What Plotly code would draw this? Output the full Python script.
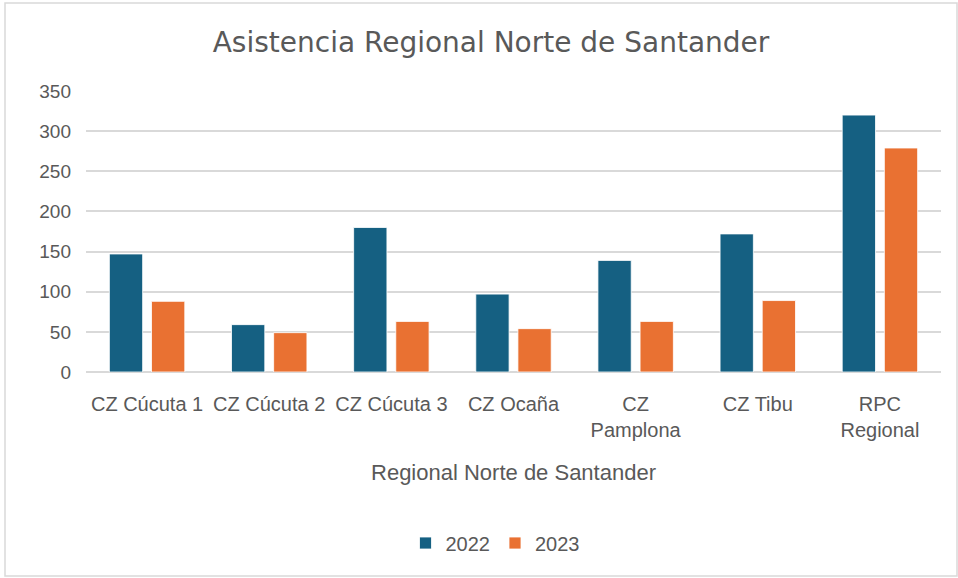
import plotly.graph_objects as go

categories = ["CZ Cúcuta 1", "CZ Cúcuta 2", "CZ Cúcuta 3", "CZ Ocaña", "CZ Pamplona", "CZ Tibu", "RPC Regional"]
tick_labels = ["CZ Cúcuta 1", "CZ Cúcuta 2", "CZ Cúcuta 3", "CZ Ocaña", "CZ<br>Pamplona", "CZ Tibu", "RPC<br>Regional"]
values_2022 = [147, 59, 180, 97, 139, 172, 320]
values_2023 = [88, 49, 63, 54, 63, 89, 279]
y_ticks = [0, 50, 100, 150, 200, 250, 300, 350]

FONT = "Liberation Sans, Arial, sans-serif"
TXT = "#595959"

fig = go.Figure()
fig.add_trace(go.Bar(name="2022", x=categories, y=values_2022,
                     marker=dict(color="#156082", line=dict(color="white", width=0.8))))
fig.add_trace(go.Bar(name="2023", x=categories, y=values_2023,
                     marker=dict(color="#E97132", line=dict(color="white", width=0.8))))

fig.update_layout(
    width=958, height=578,
    margin=dict(l=86, r=17, t=91, b=206),
    paper_bgcolor="white", plot_bgcolor="white",
    barmode="group", bargap=0.31, bargroupgap=0.21,
    font=dict(family=FONT, color=TXT, size=20),
    title=dict(text="Asistencia Regional Norte de Santander",
               x=491/958, xref="container", xanchor="center",
               y=1-42/578, yref="container", yanchor="middle",
               font=dict(family="DejaVu Sans, sans-serif", size=28, color=TXT)),
    xaxis=dict(tickmode="array", tickvals=categories, ticktext=tick_labels,
               tickfont=dict(size=20, color=TXT), showgrid=False, showline=False,
               ticks="", ticklabelstandoff=18,
               title=dict(text="Regional Norte de Santander", font=dict(size=22, color=TXT), standoff=24)),
    yaxis=dict(range=[0, 350], tickvals=y_ticks, showgrid=True, gridcolor="#D9D9D9", gridwidth=1.5,
               zeroline=True, zerolinecolor="#D9D9D9", zerolinewidth=1.5,
               tickfont=dict(size=19, color=TXT), ticks="", ticklabelstandoff=14),
    legend=dict(orientation="h", x=(495-86)/855, xanchor="center", y=-(543-372)/281, yanchor="middle",
                font=dict(size=20, color=TXT), itemwidth=30, traceorder="normal"),
    showlegend=True,
)

fig.add_shape(type="rect", xref="paper", yref="paper",
              x0=(5-86)/855, x1=(957-86)/855, y0=-(576-372)/281, y1=1+(91-3)/281,
              line=dict(color="#D9D9D9", width=1.5), fillcolor="rgba(0,0,0,0)", layer="below")

fig.write_html("out.html", config={"displayModeBar": False},
               post_script="document.body.style.margin='0';")
